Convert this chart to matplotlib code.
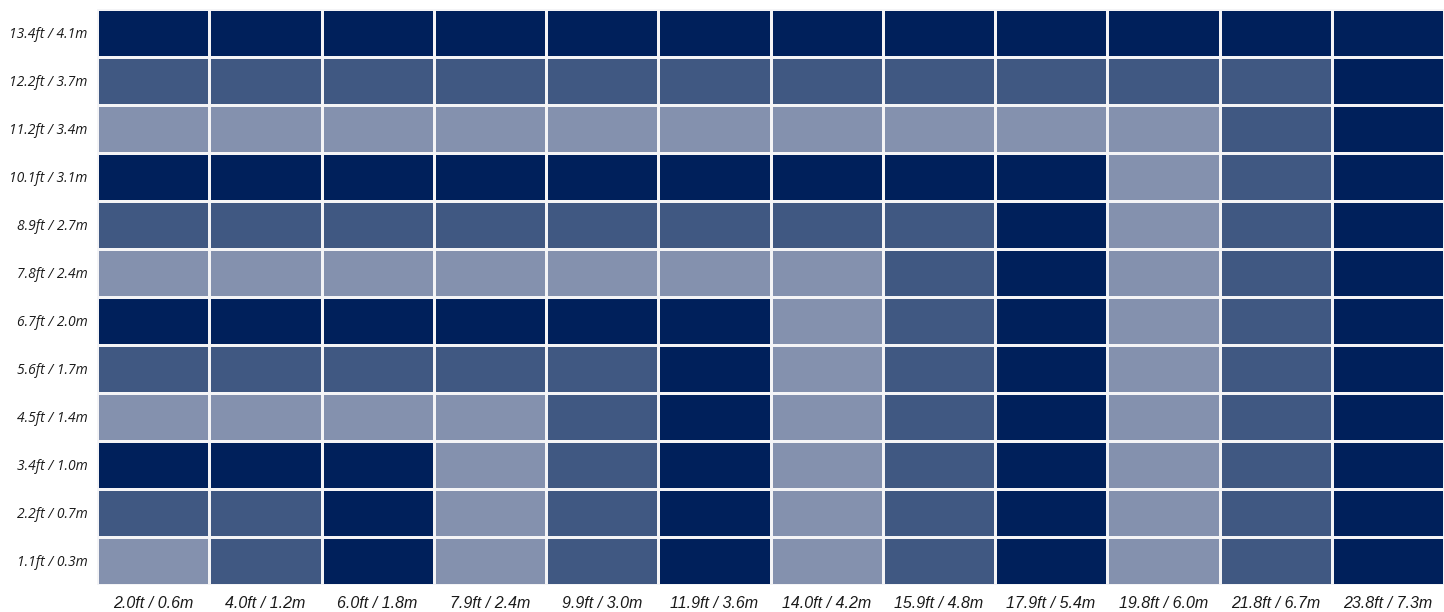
import numpy as np
import matplotlib.pyplot as plt
from matplotlib.colors import ListedColormap, BoundaryNorm

# column / row labels
x_labels = ['2.0ft / 0.6m', '4.0ft / 1.2m', '6.0ft / 1.8m', '7.9ft / 2.4m', '9.9ft / 3.0m',
            '11.9ft / 3.6m', '14.0ft / 4.2m', '15.9ft / 4.8m', '17.9ft / 5.4m',
            '19.8ft / 6.0m', '21.8ft / 6.7m', '23.8ft / 7.3m']
y_labels = ['1.1ft / 0.3m', '2.2ft / 0.7m', '3.4ft / 1.0m', '4.5ft / 1.4m', '5.6ft / 1.7m',
            '6.7ft / 2.0m', '7.8ft / 2.4m', '8.9ft / 2.7m', '10.1ft / 3.1m',
            '11.2ft / 3.4m', '12.2ft / 3.7m', '13.4ft / 4.1m']

# 0 = light, 1 = medium, 2 = dark ; rows listed bottom (1.1ft) to top (13.4ft)
row_1_1 = [0, 1, 2, 0, 1, 2, 0, 1, 2, 0, 1, 2]
row_2_2 = [1, 1, 2, 0, 1, 2, 0, 1, 2, 0, 1, 2]
row_3_4 = [2, 2, 2, 0, 1, 2, 0, 1, 2, 0, 1, 2]
row_4_5 = [0, 0, 0, 0, 1, 2, 0, 1, 2, 0, 1, 2]
row_5_6 = [1, 1, 1, 1, 1, 2, 0, 1, 2, 0, 1, 2]
row_6_7 = [2, 2, 2, 2, 2, 2, 0, 1, 2, 0, 1, 2]
row_7_8 = [0, 0, 0, 0, 0, 0, 0, 1, 2, 0, 1, 2]
row_8_9 = [1, 1, 1, 1, 1, 1, 1, 1, 2, 0, 1, 2]
row_10_1 = [2, 2, 2, 2, 2, 2, 2, 2, 2, 0, 1, 2]
row_11_2 = [0, 0, 0, 0, 0, 0, 0, 0, 0, 0, 1, 2]
row_12_2 = [1, 1, 1, 1, 1, 1, 1, 1, 1, 1, 1, 2]
row_13_4 = [2, 2, 2, 2, 2, 2, 2, 2, 2, 2, 2, 2]

grid = np.array([row_1_1, row_2_2, row_3_4, row_4_5, row_5_6, row_6_7,
                 row_7_8, row_8_9, row_10_1, row_11_2, row_12_2, row_13_4])

cmap = ListedColormap(['#8491ae', '#405882', '#00205b'])
norm = BoundaryNorm([-0.5, 0.5, 1.5, 2.5], cmap.N)

fig = plt.figure(figsize=(14.44, 6.12), dpi=100)
ax = fig.add_axes([97 / 1444, 1 - 585 / 612, 1 - 97 / 1444, (585 - 9) / 612])

ax.pcolormesh(grid, cmap=cmap, norm=norm, edgecolors='#f4f4f6', linewidth=2)
ax.set_xlim(0, grid.shape[1])
ax.set_ylim(0, grid.shape[0])

ax.set_xticks(np.arange(grid.shape[1]) + 0.5)
ax.set_xticklabels(x_labels, family='Liberation Sans', style='italic', fontsize=11.5, color='#1a1a1a')
ax.set_yticks(np.arange(grid.shape[0]) + 0.5)
ax.set_yticklabels(y_labels, family='Open Sans', style='italic', fontsize=10, color='#1a1a1a')
ax.tick_params(length=0)
ax.tick_params(axis='x', pad=8)
ax.tick_params(axis='y', pad=7)
for s in ax.spines.values():
    s.set_visible(False)

fig.savefig('out.png', dpi=100)
